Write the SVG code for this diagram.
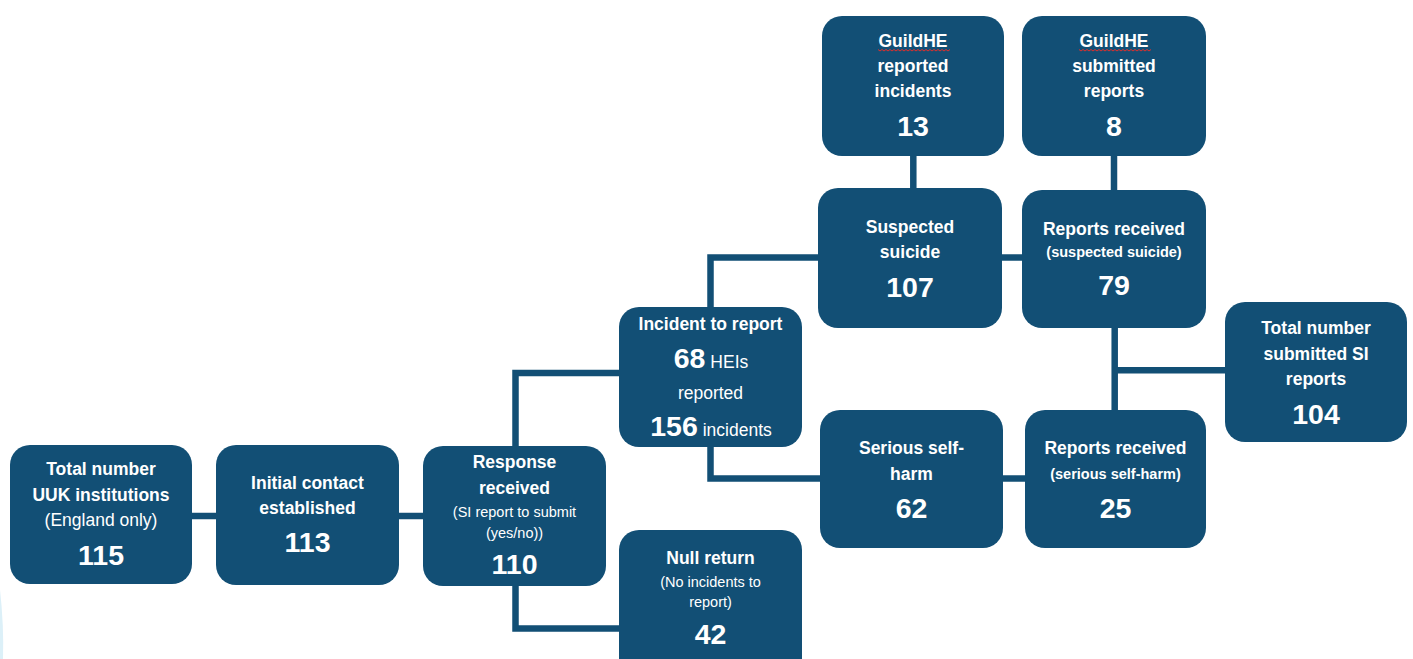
<svg xmlns="http://www.w3.org/2000/svg" width="1413" height="659" viewBox="0 0 1413 659">
  <style>
    .box { fill: #124f75; }
    .conn { fill: none; stroke: #124f75; stroke-width: 6.5; stroke-linejoin: miter; stroke-linecap: butt; }
    text { fill: #ffffff; font-family: "Liberation Sans", Arial, sans-serif; text-anchor: middle; }
    .t { font-size: 17.5px; font-weight: bold; }
    .r { font-size: 17.5px; font-weight: normal; }
    .s { font-size: 14.5px; font-weight: normal; }
    .sb { font-size: 14.5px; font-weight: bold; }
    .n { font-size: 28.5px; font-weight: bold; }
    .wave { fill: none; stroke: #e0302c; stroke-width: 1; }
  </style>
  <rect width="1413" height="659" fill="#ffffff"/>
  <path d="M0,590 Q4,625 3,659 L0,659 Z" fill="#dcf0f8"/>

  <g id="connectors">
    <path class="conn" d="M192,516 H216"/>
    <path class="conn" d="M399,516 H423"/>
    <path class="conn" d="M515.5,446 V373 H619"/>
    <path class="conn" d="M515.5,586 V628.5 H619"/>
    <path class="conn" d="M710.5,307 V257.5 H818"/>
    <path class="conn" d="M710.5,447 V478.5 H820"/>
    <path class="conn" d="M1002,257.5 H1022"/>
    <path class="conn" d="M1003,478.5 H1025"/>
    <path class="conn" d="M913.3,155 V189"/>
    <path class="conn" d="M1114,155 V190"/>
    <path class="conn" d="M1114.7,328 V410"/>
    <path class="conn" d="M1114.7,370.3 H1225"/>
  </g>

  <g id="total-uuk">
    <rect class="box" x="10" y="445" width="182" height="139" rx="20"/>
    <text class="t" x="101" y="475">Total number</text>
    <text class="t" x="101" y="501">UUK institutions</text>
    <text class="r" x="101" y="526">(England only)</text>
    <text class="n" x="101" y="565">115</text>
  </g>

  <g id="initial-contact">
    <rect class="box" x="216" y="445" width="183" height="140" rx="20"/>
    <text class="t" x="307.5" y="489">Initial contact</text>
    <text class="t" x="307.5" y="514">established</text>
    <text class="n" x="307.5" y="552">113</text>
  </g>

  <g id="response-received">
    <rect class="box" x="423" y="446" width="183" height="140" rx="20"/>
    <text class="t" x="514.5" y="468">Response</text>
    <text class="t" x="514.5" y="494">received</text>
    <text class="s" x="514.5" y="517">(SI report to submit</text>
    <text class="s" x="514.5" y="538">(yes/no))</text>
    <text class="n" x="514.5" y="574">110</text>
  </g>

  <g id="incident-to-report">
    <rect class="box" x="619" y="307" width="183" height="140" rx="20"/>
    <text class="t" x="710.5" y="330">Incident to report</text>
    <text x="711" y="368"><tspan class="n">68</tspan><tspan class="r"> HEIs</tspan></text>
    <text class="r" x="710.5" y="399">reported</text>
    <text x="711" y="436"><tspan class="n">156</tspan><tspan class="r"> incidents</tspan></text>
  </g>

  <g id="null-return">
    <rect class="box" x="619" y="530" width="183" height="150" rx="20"/>
    <text class="t" x="710.5" y="564">Null return</text>
    <text class="s" x="710.5" y="587">(No incidents to</text>
    <text class="s" x="710.5" y="607">report)</text>
    <text class="n" x="710.5" y="644">42</text>
  </g>

  <g id="guildhe-reported">
    <rect class="box" x="822" y="16" width="182" height="140" rx="20"/>
    <text class="t" x="913" y="47">GuildHE</text>
    <path class="wave" d="M878,49.5 l2,1.5 2,-1.5 2,1.5 2,-1.5 2,1.5 2,-1.5 2,1.5 2,-1.5 2,1.5 2,-1.5 2,1.5 2,-1.5 2,1.5 2,-1.5 2,1.5 2,-1.5 2,1.5 2,-1.5 2,1.5 2,-1.5 2,1.5 2,-1.5 2,1.5 2,-1.5 2,1.5 2,-1.5 2,1.5 2,-1.5 2,1.5 2,-1.5 2,1.5 2,-1.5 2,1.5 2,-1.5 2,1.5 2,-1.5"/>
    <text class="t" x="913" y="72">reported</text>
    <text class="t" x="913" y="97">incidents</text>
    <text class="n" x="913" y="136">13</text>
  </g>

  <g id="guildhe-submitted">
    <rect class="box" x="1022" y="16" width="184" height="140" rx="20"/>
    <text class="t" x="1114" y="47">GuildHE</text>
    <path class="wave" d="M1079,49.5 l2,1.5 2,-1.5 2,1.5 2,-1.5 2,1.5 2,-1.5 2,1.5 2,-1.5 2,1.5 2,-1.5 2,1.5 2,-1.5 2,1.5 2,-1.5 2,1.5 2,-1.5 2,1.5 2,-1.5 2,1.5 2,-1.5 2,1.5 2,-1.5 2,1.5 2,-1.5 2,1.5 2,-1.5 2,1.5 2,-1.5 2,1.5 2,-1.5 2,1.5 2,-1.5 2,1.5 2,-1.5 2,1.5 2,-1.5"/>
    <text class="t" x="1114" y="72">submitted</text>
    <text class="t" x="1114" y="97">reports</text>
    <text class="n" x="1114" y="136">8</text>
  </g>

  <g id="suspected-suicide">
    <rect class="box" x="818" y="188" width="184" height="140" rx="20"/>
    <text class="t" x="910" y="233">Suspected</text>
    <text class="t" x="910" y="258">suicide</text>
    <text class="n" x="910" y="297">107</text>
  </g>

  <g id="reports-suspected-suicide">
    <rect class="box" x="1022" y="190" width="184" height="138" rx="20"/>
    <text class="t" x="1114" y="235">Reports received</text>
    <text class="sb" x="1114" y="257">(suspected suicide)</text>
    <text class="n" x="1114" y="295">79</text>
  </g>

  <g id="serious-self-harm">
    <rect class="box" x="820" y="410" width="183" height="138" rx="20"/>
    <text class="t" x="911.5" y="454">Serious self-</text>
    <text class="t" x="911.5" y="480">harm</text>
    <text class="n" x="911.5" y="518">62</text>
  </g>

  <g id="reports-self-harm">
    <rect class="box" x="1025" y="410" width="181" height="138" rx="20"/>
    <text class="t" x="1115.5" y="454">Reports received</text>
    <text class="sb" x="1115.5" y="479">(serious self-harm)</text>
    <text class="n" x="1115.5" y="518">25</text>
  </g>

  <g id="total-submitted">
    <rect class="box" x="1225" y="302" width="182" height="140" rx="20"/>
    <text class="t" x="1316" y="334">Total number</text>
    <text class="t" x="1316" y="360">submitted SI</text>
    <text class="t" x="1316" y="385">reports</text>
    <text class="n" x="1316" y="424">104</text>
  </g>
</svg>
